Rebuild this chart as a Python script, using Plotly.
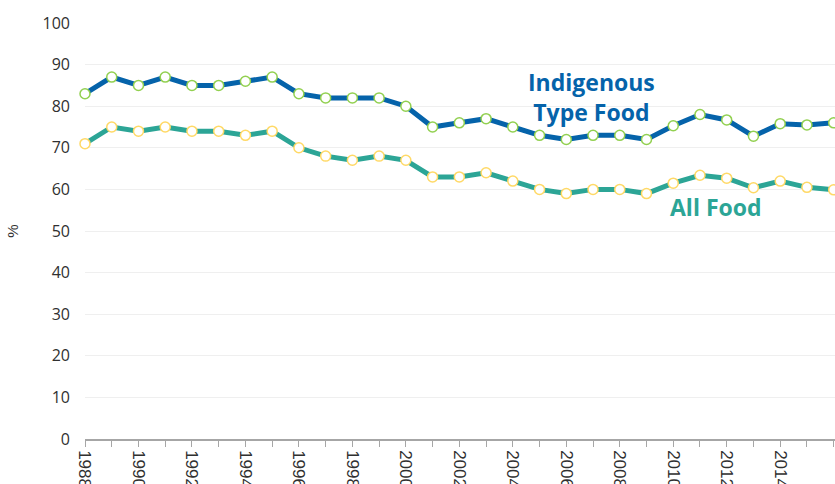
import plotly.graph_objects as go

years = list(range(1988, 2017))
indigenous = [83, 87, 85, 87, 85, 85, 86, 87, 83, 82, 82, 82, 80, 75, 76, 77, 75, 73, 72, 73, 73, 72,
              75.3, 78, 76.7, 72.8, 75.8, 75.5, 76]
all_food = [71, 75, 74, 75, 74, 74, 73, 74, 70, 68, 67, 68, 67, 63, 63, 64, 62, 60, 59, 60, 60, 59,
            61.5, 63.4, 62.7, 60.4, 62, 60.5, 59.9]
y_ticks = [0, 10, 20, 30, 40, 50, 60, 70, 80, 90, 100]
x_ticks = list(range(1988, 2017, 2))

fig = go.Figure()
fig.add_trace(go.Scatter(
    x=years, y=indigenous, mode="lines+markers", name="Indigenous Type Food",
    line=dict(color="#0563AA", width=5),
    marker=dict(size=10, color="white", line=dict(color="#92D050", width=1.5)),
    cliponaxis=False,
))
fig.add_trace(go.Scatter(
    x=years, y=all_food, mode="lines+markers", name="All Food",
    line=dict(color="#2CA596", width=5),
    marker=dict(size=10, color="white", line=dict(color="#FFD966", width=1.5)),
    cliponaxis=False,
))

fig.add_annotation(x=2006.95, y=82.3, text="<b>Indigenous<br>Type Food</b>", showarrow=False,
                   font=dict(family="Open Sans", size=23, color="#0563AA"), align="center")
fig.add_annotation(x=2011.6, y=55.8, text="<b>All Food</b>", showarrow=False,
                   font=dict(family="Open Sans", size=23, color="#2CA596"), align="center")

fig.update_layout(
    width=835, height=484,
    margin=dict(l=85, r=0, t=23, b=45),
    plot_bgcolor="white", paper_bgcolor="white",
    showlegend=False,
    font=dict(family="Liberation Sans", color="#404040"),
)
fig.update_xaxes(
    automargin=False,
    range=[1988, 2016.05], tickvals=x_ticks, ticktext=[str(v) for v in x_ticks],
    tickangle=90, ticks="outside", ticklen=6, tickcolor="#A6A6A6",
    showline=True, linecolor="#A6A6A6", linewidth=1.5, showgrid=False, zeroline=False,
    tickfont=dict(family="Liberation Sans", size=17, color="#303030"),
    minor=dict(tickvals=years, ticks="outside", ticklen=6, tickcolor="#A6A6A6"),
)
fig.update_yaxes(
    automargin=False,
    range=[0, 100], tickvals=y_ticks, showgrid=True, gridcolor="#EFEFEF", gridwidth=1,
    zeroline=False, showline=False, ticks="", ticklabelstandoff=14,
    tickfont=dict(family="Open Sans", size=16, color="#303030"),
    title=dict(text="%", font=dict(size=15, color="#303030"), standoff=20),
)
# remove the browser's default 8px page margin so the figure fills the window exactly
fig.write_html("out.html",
               config={"displayModeBar": False},
               post_script="document.body.style.margin='0';document.body.style.overflow='hidden';")
